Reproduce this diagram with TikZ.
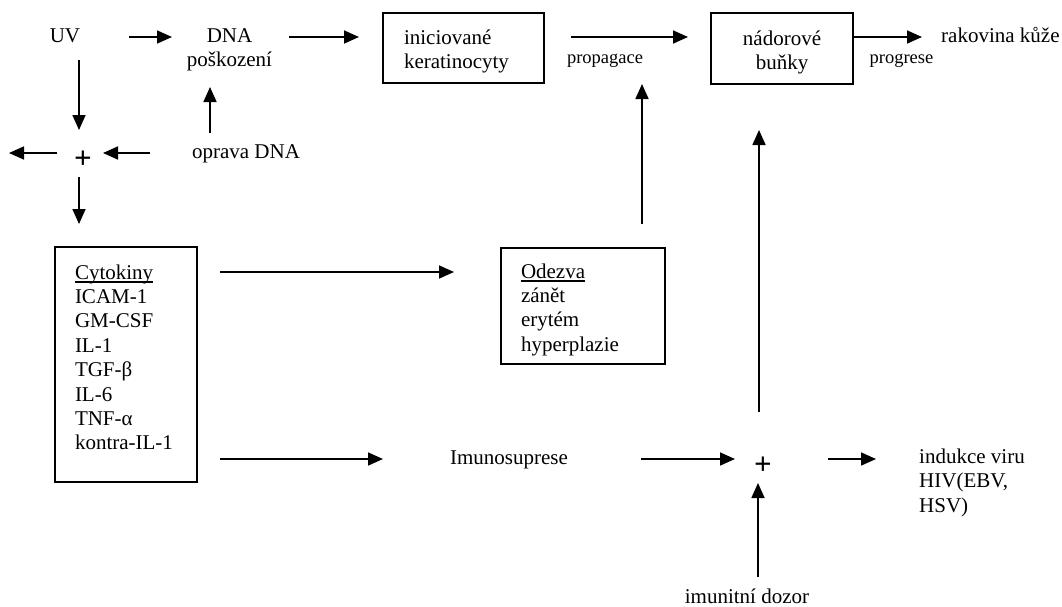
\documentclass[tikz,border=0pt]{standalone}
\usepackage{fontspec}
\setmainfont{Liberation Serif}
\usetikzlibrary{arrows.meta}
\newcommand\myul[1]{\setbox0\hbox{#1}\rlap{\rule[-3.5pt]{\wd0}{1.3pt}}#1}
\begin{document}
\begin{tikzpicture}[x=1pt,y=-1pt,
  every node/.style={font=\fontsize{21pt}{24.4pt}\selectfont, inner sep=0pt},
  lbl/.style={anchor=base},
  small/.style={font=\fontsize{18.5pt}{22pt}\selectfont, anchor=base},
  box/.style={draw, line width=1.7pt, inner sep=0pt},
  arr/.style={line width=1.7pt, -{Triangle[length=15pt,width=13pt]}},
  plus/.style={font=\fontsize{31pt}{32pt}\selectfont\bfseries, anchor=center}]
\useasboundingbox (0,0) rectangle (1062,606);

% text nodes
\node[lbl] (uv) at (65,42) {UV};
\node[anchor=north, align=center] (dna) at (229.5,28) {DNA\\poškození};
\node[box, align=left, text width=119pt, inner xsep=21pt, minimum width=161pt, minimum height=70pt] (inic) at (463.5,48) {\rule{0pt}{22pt}iniciované\\keratinocyty};
\node[box, align=center, text width=122pt, inner xsep=10pt, minimum width=142pt, minimum height=71pt] (nad) at (782,48.5) {\rule{0pt}{22pt}nádorové\\buňky};
\node[anchor=base west] (rak) at (941,42) {rakovina kůže};
\node[small] (prop) at (605,63) {propagace};
\node[small] (prog) at (901.5,63) {progrese};
\node[lbl] (oprava) at (246,158) {oprava DNA};
\node[plus] (p1) at (83,160) {+};
\node[box, align=left, text width=102pt, inner xsep=20pt, minimum width=142pt, minimum height=235pt] (cyt) at (126,364.5)
  {\myul{Cytokiny}\\ICAM-1\\GM-CSF\\IL-1\\TGF-β\\IL-6\\TNF-α\\kontra-IL-1\rule[-14.5pt]{0pt}{14.5pt}};
\node[box, align=left, text width=124pt, inner xsep=20pt, minimum width=164pt, minimum height=116pt] (ode) at (583,306)
  {\rule{0pt}{22pt}\myul{Odezva}\\zánět\\erytém\\hyperplazie};
\node[lbl] (imuno) at (509,464) {Imunosuprese};
\node[plus] (p2) at (763,465.5) {+};
\node[anchor=north west, align=left] (ind) at (919,448.7) {indukce viru\\HIV(EBV,\\HSV)};
\node[lbl] (dozor) at (747,603) {imunitní dozor};

% connector end points
\coordinate (uv-r) at (129,37);   \coordinate (dna-l) at (172,37);
\coordinate (dna-r) at (289,37);  \coordinate (inic-l) at (359,37);
\coordinate (inic-r) at (571,37); \coordinate (nad-l) at (688,37);
\coordinate (rak-l) at (922,37);
\coordinate (uv-b) at (79,60);    \coordinate (p1-t) at (79,130);
\coordinate (opr-t) at (210,133); \coordinate (dna-b) at (210,87);
\coordinate (opr-l) at (150,153); \coordinate (p1-r) at (103,153);
\coordinate (p1-l) at (57,153);   \coordinate (out-l) at (9,153);
\coordinate (p1-b) at (79,177);   \coordinate (cyt-t) at (79,224);
\coordinate (cyt-r1) at (220,272); \coordinate (ode-l) at (454,272);
\coordinate (cyt-r2) at (220,459); \coordinate (imuno-l) at (383,459);
\coordinate (ode-t) at (642,224); \coordinate (prop-b) at (642,84);
\coordinate (p2-t) at (759,412);  \coordinate (nad-b) at (759,130);
\coordinate (imuno-r) at (641,459); \coordinate (p2-l) at (735,459);
\coordinate (p2-r) at (828,459);  \coordinate (ind-l) at (876,459);
\coordinate (dozor-t) at (758,577); \coordinate (p2-b) at (758,483);

% connectors
\draw[arr] (uv-r) -- (dna-l);
\draw[arr] (dna-r) -- (inic-l);
\draw[arr] (inic-r) -- (nad-l);
\draw[arr] (nad.east |- rak-l) -- (rak-l);
\draw[arr] (uv-b) -- (p1-t);
\draw[arr] (opr-t) -- (dna-b);
\draw[arr] (opr-l) -- (p1-r);
\draw[arr] (p1-l) -- (out-l);
\draw[arr] (p1-b) -- (cyt-t);
\draw[arr] (cyt-r1) -- (ode-l);
\draw[arr] (cyt-r2) -- (imuno-l);
\draw[arr] (ode-t) -- (prop-b);
\draw[arr] (p2-t) -- (nad-b);
\draw[arr] (imuno-r) -- (p2-l);
\draw[arr] (p2-r) -- (ind-l);
\draw[arr] (dozor-t) -- (p2-b);
\end{tikzpicture}
\end{document}
